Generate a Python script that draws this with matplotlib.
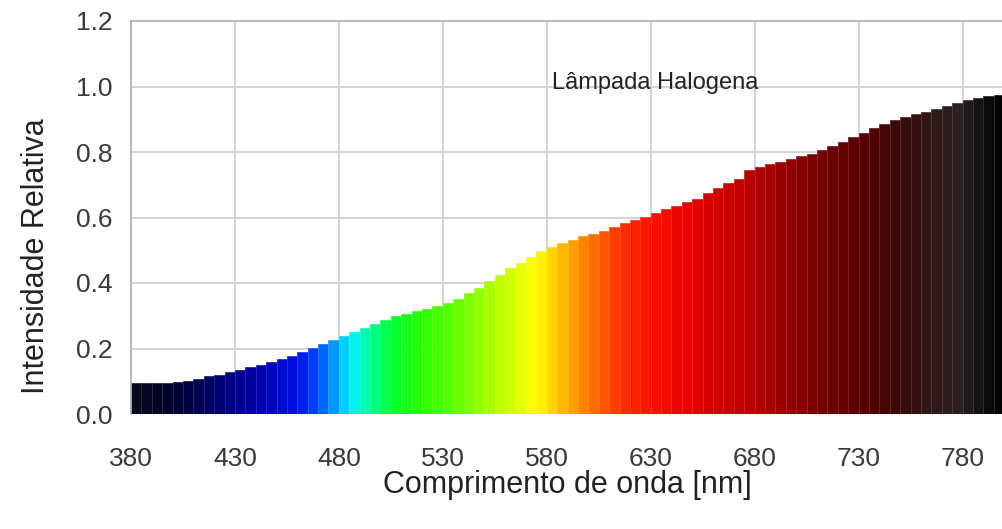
import matplotlib.pyplot as plt
from matplotlib.colors import LinearSegmentedColormap, Normalize

# Halogen lamp spectrum, sampled every 5 nm (bar left edges)
wavelength_nm = list(range(380, 800, 5))
intensity = [
    0.095, 0.094, 0.094, 0.095, 0.097, 0.102, 0.108, 0.115, 0.120, 0.127,
    0.135, 0.142, 0.150, 0.158, 0.167, 0.178, 0.190, 0.202, 0.214, 0.226,
    0.238, 0.250, 0.263, 0.276, 0.288, 0.298, 0.305, 0.313, 0.321, 0.330,
    0.340, 0.352, 0.368, 0.385, 0.405, 0.425, 0.445, 0.462, 0.480, 0.497,
    0.510, 0.522, 0.532, 0.542, 0.550, 0.558, 0.570, 0.582, 0.592, 0.603,
    0.613, 0.625, 0.636, 0.646, 0.655, 0.675, 0.690, 0.705, 0.718, 0.745,
    0.755, 0.762, 0.770, 0.778, 0.787, 0.795, 0.805, 0.818, 0.830, 0.845,
    0.858, 0.872, 0.886, 0.897, 0.906, 0.915, 0.922, 0.930, 0.940, 0.950,
    0.958, 0.966, 0.972, 0.975,
]
x_ticks = [380, 430, 480, 530, 580, 630, 680, 730, 780]
y_ticks = [0.0, 0.2, 0.4, 0.6, 0.8, 1.0, 1.2]

# Colour of visible light along the wavelength axis
spectrum_nm = [380, 400, 420, 440, 460, 470, 478, 485, 495, 505, 520, 540,
               560, 575, 585, 595, 605, 615, 630, 650, 670, 690, 710, 730,
               750, 765, 780, 790, 800]
spectrum_colors = ["#0a0a1a", "#000030", "#00006e", "#0000a8", "#0010e8",
                   "#0050ff", "#00a0ff", "#00f0ff", "#00ff90", "#00ff30",
                   "#30ff00", "#70ff00", "#c8ff00", "#ffff00", "#ffc800",
                   "#ff9000", "#ff6000", "#ff3000", "#ff1000", "#e80000",
                   "#c80000", "#a00000", "#780000", "#580000", "#3a0808",
                   "#301818", "#2a2020", "#101010", "#000000"]

norm = Normalize(380, 800)
cmap = LinearSegmentedColormap.from_list(
    "spectrum", [(norm(w), c) for w, c in zip(spectrum_nm, spectrum_colors)]
)

fig = plt.figure(figsize=(10.02, 5.29), dpi=100)
ax = fig.add_axes([131 / 1002, 115 / 529, 871 / 1002, 393 / 529])

bar_colors = [cmap(norm(w + 2.5)) for w in wavelength_nm]
# slightly lighter bar edges give the striped look of the spectrum
edge_colors = [tuple(0.85 * c + 0.15 for c in col[:3]) for col in bar_colors]
ax.bar(wavelength_nm, intensity, width=5, align="edge",
       color=bar_colors, edgecolor=edge_colors, linewidth=0.6)

ax.set_xlim(380, 799)
ax.set_ylim(0, 1.2)
ax.set_xticks(x_ticks)
ax.set_yticks(y_ticks)
ax.set_yticklabels([f"{v:.1f}" for v in y_ticks])
ax.grid(True, color="#cccccc", linewidth=1.2)
ax.set_axisbelow(True)
ax.tick_params(length=0, labelsize=19, colors="#3a3a3a",
               labelfontfamily="Liberation Sans")
ax.tick_params(axis="x", pad=24)
ax.tick_params(axis="y", pad=13)
for side in ["top", "left"]:
    ax.spines[side].set_color("#b0b0b0")
    ax.spines[side].set_linewidth(1.2)
ax.spines["right"].set_visible(False)
ax.spines["bottom"].set_visible(False)

ax.text(632, 1.01, "Lâmpada Halogena", ha="center", va="center",
        fontsize=17, color="#222222", family="Liberation Sans")

fig.text(567 / 1002, 1 - 485 / 529, "Comprimento de onda [nm]",
         ha="center", va="center", fontsize=22, color="#222222",
         family="Liberation Sans")
fig.text(36 / 1002, 1 - 256 / 529, "Intensidade Relativa", rotation=90,
         ha="center", va="center", fontsize=22, color="#222222",
         family="Liberation Sans")

fig.savefig("out.png", dpi=100)
